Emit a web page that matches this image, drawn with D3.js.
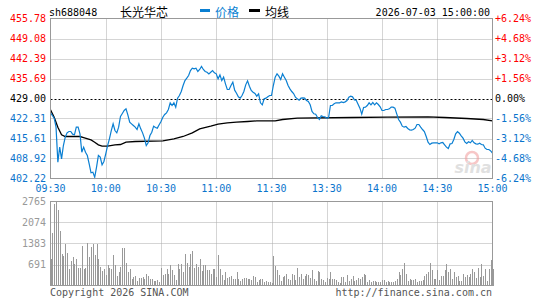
<!DOCTYPE html>
<html>
<head>
<meta charset="utf-8">
<script src="https://cdn.jsdelivr.net/npm/d3@7"></script>
<style>
  body { margin: 0; background: #fff; }
  text { font-family: "DejaVu Sans Mono", monospace; font-size: 10px; }
</style>
</head>
<body>
<svg id="chart" width="545" height="300"></svg>
<script>
let prevClose = 429.00;
let priceTicks = [455.78, 449.08, 442.39, 435.69, 429.00, 422.31, 415.61, 408.92, 402.22];
let pctTicks = ["+6.24%", "+4.68%", "+3.12%", "+1.56%", "0.00%", "-1.56%", "-3.12%", "-4.68%", "-6.24%"];
let volTicks = [2765, 2074, 1383, 691];
let timeLabels = ["09:30", "10:00", "10:30", "11:00", "11:30", "13:30", "14:00", "14:30", "15:00"];

// one price per minute, 09:30-11:30 then 13:01-15:00
let prices = [
  424.20, 423.31, 422.42, 419.40, 407.68, 412.71, 408.80, 413.26, 416.06, 417.50,
  417.95, 417.95, 417.06, 416.84, 419.40, 419.40, 417.17, 411.03, 412.71, 411.03,
  409.92, 407.13, 404.12, 404.34, 402.66, 406.01, 409.92, 409.36, 406.79, 407.91,
  410.47, 413.26, 415.50, 418.28, 420.52, 418.28, 417.50, 419.40, 422.97, 423.98,
  424.98, 425.54, 423.53, 421.08, 420.52, 419.96, 419.40, 418.62, 420.52, 418.84,
  417.50, 415.72, 413.26, 414.16, 416.61, 417.73, 419.74, 419.29, 419.07, 420.19,
  421.30, 422.75, 423.64, 424.20, 425.32, 427.55, 426.65, 427.55, 426.10, 429.11,
  430.00, 431.34, 433.35, 435.02, 435.80, 436.70, 438.37, 439.15, 438.93, 439.15,
  438.04, 438.71, 439.71, 438.71, 438.04, 437.81, 437.26, 437.81, 438.37, 437.59,
  437.26, 435.58, 436.92, 435.02, 436.14, 433.91, 432.01, 432.01, 433.35, 434.47,
  431.79, 430.78, 429.56, 429.11, 430.00, 431.34, 433.57, 434.91, 433.13, 431.68,
  431.12, 430.67, 429.78, 430.56, 427.55, 426.88, 428.89, 429.11, 429.56, 430.00,
  430.00, 433.35, 436.14, 437.26, 436.47, 435.36, 437.26, 436.14, 435.02, 433.35,
  432.23, 431.34, 430.67, 429.44, 428.89, 428.44, 429.11, 429.22, 429.11, 428.33,
  427.99, 426.88, 424.65, 423.87, 423.75, 422.64, 421.97, 423.19, 422.97, 422.86,
  422.42, 422.64, 426.65, 426.65, 427.21, 427.55, 427.55, 427.55, 427.88, 427.66,
  427.88, 428.33, 429.44, 429.78, 429.56, 428.55, 428.44, 427.10, 425.76, 423.75,
  425.98, 426.10, 426.65, 427.55, 426.88, 427.66, 426.88, 427.55, 426.99, 426.21,
  424.98, 424.98, 425.32, 425.32, 425.54, 426.10, 426.10, 425.76, 423.87, 421.97,
  421.08, 419.74, 419.40, 419.63, 418.96, 418.51, 418.40, 418.62, 419.07, 420.30,
  420.30, 419.40, 418.62, 417.95, 416.28, 414.38, 413.60, 414.05, 414.16, 414.16,
  414.16, 413.82, 414.16, 414.27, 413.49, 412.71, 412.26, 413.82, 413.93, 415.27,
  417.17, 417.95, 417.39, 416.50, 415.72, 414.49, 413.93, 414.49, 414.16, 414.94,
  414.16, 413.82, 413.71, 414.05, 413.60, 413.49, 412.37, 411.93, 411.93, 411.48,
  410.70
];

// average line, read at these minutes
let avgMinutes = [0, 2, 4, 6, 8, 16, 18, 22, 24, 26, 28, 31, 35, 38, 41, 46, 61, 67, 72, 77,
  81, 87, 91, 96, 101, 107, 112, 122, 126, 134, 164, 183, 205, 214, 226, 235, 240];
let avgPrices = [425.21, 422.75, 419.40, 416.84, 416.28, 416.28, 415.94, 415.16, 414.38, 413.49,
  413.04, 413.04, 413.49, 413.60, 414.38, 414.60, 414.83, 415.50, 416.28, 417.50,
  418.84, 419.74, 420.41, 420.85, 421.08, 421.30, 421.52, 421.52, 421.97, 422.42,
  422.64, 422.75, 422.86, 422.64, 422.31, 421.97, 421.52];

let volumes = [
  888, 1744, 2699, 2753, 2479, 1788, 1053, 976, 1382, 1086,
  559, 801, 943, 724, 856, 592, 592, 1294, 559, 592,
  1415, 943, 1273, 1382, 1020, 1382, 888, 614, 472, 527,
  362, 669, 581, 559, 1020, 669, 318, 428, 614, 1240,
  1240, 757, 428, 538, 208, 274, 318, 143, 263, 263,
  285, 208, 384, 318, 208, 230, 143, 143, 176, 121,
  592, 340, 395, 538, 395, 669, 505, 362, 197, 724,
  559, 724, 428, 1053, 757, 614, 1053, 1130, 581, 724,
  614, 856, 472, 691, 691, 505, 505, 395, 538, 559,
  285, 1020, 538, 340, 176, 428, 252, 285, 318, 230,
  230, 428, 230, 143, 230, 252, 263, 208, 208, 176,
  318, 285, 121, 176, 230, 208, 121, 143, 121, 99,
  66, 965, 636, 505, 362, 143, 285, 307, 395, 230,
  197, 395, 362, 197, 592, 285, 395, 208, 318, 395,
  340, 263, 505, 230, 143, 461, 450, 219, 197, 121,
  263, 230, 428, 208, 230, 176, 99, 66, 274, 285,
  99, 362, 143, 208, 307, 143, 176, 252, 208, 285,
  395, 362, 121, 176, 99, 154, 143, 99, 99, 99,
  197, 197, 99, 143, 99, 121, 99, 143, 230, 428,
  362, 559, 757, 395, 143, 230, 197, 176, 230, 99,
  143, 143, 176, 318, 395, 428, 757, 505, 230, 230,
  494, 197, 318, 318, 505, 724, 428, 559, 230, 428,
  285, 307, 143, 143, 395, 285, 340, 285, 395, 538,
  428, 252, 581, 285, 724, 318, 538, 143, 538, 834,
  538
];

let blue = "#0a7fd2";
let labelBlue = "#0a74cc";
let red = "#ff0000";

let svg = d3.select("#chart");

let x = d3.scaleLinear().domain([0, 240]).range([50.5, 492.5]);
let yP = d3.scaleLinear().domain([402.22, 455.78]).range([178.5, 18.5]);
let yV = d3.scaleLinear().domain([0, 2765]).range([285.5, 201.5]);

// header
svg.append("text").attr("x", 49).attr("y", 15.5).attr("fill", "#000").text("sh688048");
svg.append("text").attr("x", 120).attr("y", 16.5)
  .style("font-family", "'Noto Sans CJK SC'").style("font-size", "12px").text("长光华芯");
svg.append("rect").attr("x", 200).attr("y", 9).attr("width", 10).attr("height", 3).attr("fill", blue);
svg.append("text").attr("x", 215).attr("y", 16.5).attr("fill", blue)
  .style("font-family", "'Noto Sans CJK SC'").style("font-size", "12px").text("价格");
svg.append("rect").attr("x", 249).attr("y", 9).attr("width", 11).attr("height", 3).attr("fill", "#000");
svg.append("text").attr("x", 265).attr("y", 16.5)
  .style("font-family", "'Noto Sans CJK SC'").style("font-size", "12px").text("均线");
svg.append("text").attr("x", 490).attr("y", 15.5).attr("text-anchor", "end").text("2026-07-03 15:00:00");

// grid lines, price panel
svg.append("g").selectAll("line")
  .data(priceTicks.slice(1, -1).filter(d => d !== prevClose))
  .enter().append("line")
  .attr("x1", x(0)).attr("x2", x(240))
  .attr("y1", d => Math.round(yP(d)) + 0.5).attr("y2", d => Math.round(yP(d)) + 0.5)
  .attr("stroke", "#aaa").attr("stroke-dasharray", "1,1");

let vMins = d3.range(30, 240, 30);
svg.append("g").selectAll("line")
  .data(vMins).enter().append("line")
  .attr("x1", d => Math.round(x(d)) + 0.5).attr("x2", d => Math.round(x(d)) + 0.5)
  .attr("y1", yP.range()[1]).attr("y2", yP.range()[0])
  .attr("stroke", "#aaa").attr("stroke-dasharray", "1,1");

// volume grid
svg.append("g").selectAll("line")
  .data(volTicks.slice(1)).enter().append("line")
  .attr("x1", x(0)).attr("x2", x(240))
  .attr("y1", d => Math.round(yV(d)) + 0.5).attr("y2", d => Math.round(yV(d)) + 0.5)
  .attr("stroke", "#aaa").attr("stroke-dasharray", "1,1");
svg.append("g").selectAll("line")
  .data(vMins).enter().append("line")
  .attr("x1", d => Math.round(x(d)) + 0.5).attr("x2", d => Math.round(x(d)) + 0.5)
  .attr("y1", yV.range()[1]).attr("y2", yV.range()[0])
  .attr("stroke", "#aaa").attr("stroke-dasharray", "1,1");

// watermark
let wm = svg.append("g").attr("opacity", 0.55);
wm.append("circle").attr("cx", 472).attr("cy", 158).attr("r", 6)
  .attr("fill", "none").attr("stroke", "#f29a9a").attr("stroke-width", 2.5);
wm.append("text").attr("x", 473).attr("y", 173).attr("text-anchor", "middle")
  .style("font-family", "'DejaVu Sans'").style("font-size", "16px")
  .style("font-style", "italic").style("font-weight", "bold")
  .attr("fill", "#c8c8c8").text("sina");

// volume bars
svg.append("g").selectAll("rect")
  .data(volumes).enter().append("rect")
  .attr("x", (d, i) => Math.round(x(i)))
  .attr("y", d => yV(d))
  .attr("width", 1)
  .attr("height", d => yV(0) - yV(d))
  .attr("fill", "#999")
  .attr("shape-rendering", "crispEdges");

// previous close line
svg.append("line")
  .attr("x1", x(0)).attr("x2", x(240))
  .attr("y1", Math.round(yP(prevClose)) + 0.5).attr("y2", Math.round(yP(prevClose)) + 0.5)
  .attr("stroke", "#000").attr("stroke-dasharray", "2,2");

// average line
svg.append("path")
  .datum(avgMinutes.map((m, i) => [m, avgPrices[i]]))
  .attr("fill", "none").attr("stroke", "#000").attr("stroke-width", 1.3)
  .attr("d", d3.line().x(d => x(d[0])).y(d => yP(d[1])));

// price line
svg.append("path")
  .datum(prices)
  .attr("fill", "none").attr("stroke", blue).attr("stroke-width", 1.2)
  .attr("d", d3.line().x((d, i) => x(i)).y(d => yP(d)));

// frames
svg.append("rect").attr("x", 50.5).attr("y", 18.5).attr("width", 442).attr("height", 160)
  .attr("fill", "none").attr("stroke", "#999");
svg.append("rect").attr("x", 50.5).attr("y", 201.5).attr("width", 442).attr("height", 84)
  .attr("fill", "none").attr("stroke", "#999");

// price labels
let labelColor = d => d > prevClose ? red : (d < prevClose ? labelBlue : "#000");
svg.append("g").selectAll("text")
  .data(priceTicks).enter().append("text")
  .attr("x", 46).attr("y", d => yP(d)).attr("dy", "0.35em")
  .attr("text-anchor", "end").attr("fill", labelColor)
  .text(d => d.toFixed(2));

svg.append("g").selectAll("text")
  .data(pctTicks).enter().append("text")
  .attr("x", 495).attr("y", (d, i) => yP(priceTicks[i])).attr("dy", "0.35em")
  .attr("fill", (d, i) => labelColor(priceTicks[i]))
  .text(d => d);

// time labels
svg.append("g").selectAll("text")
  .data(timeLabels).enter().append("text")
  .attr("x", (d, i) => x(i * 30)).attr("y", 188).attr("dy", "0.35em")
  .attr("text-anchor", "middle").attr("fill", labelBlue)
  .text(d => d);

// volume labels
svg.append("g").selectAll("text")
  .data(volTicks).enter().append("text")
  .attr("x", 46).attr("y", d => yV(d)).attr("dy", "0.35em")
  .attr("text-anchor", "end").attr("fill", "#999")
  .text(d => d);

// footer
svg.append("text").attr("x", 50).attr("y", 292).attr("dy", "0.35em").attr("fill", "#555")
  .text("Copyright 2026 SINA.COM");
svg.append("text").attr("x", 492).attr("y", 292).attr("dy", "0.35em").attr("fill", "#555")
  .attr("text-anchor", "end").text("http://finance.sina.com.cn");
</script>
</body>
</html>
